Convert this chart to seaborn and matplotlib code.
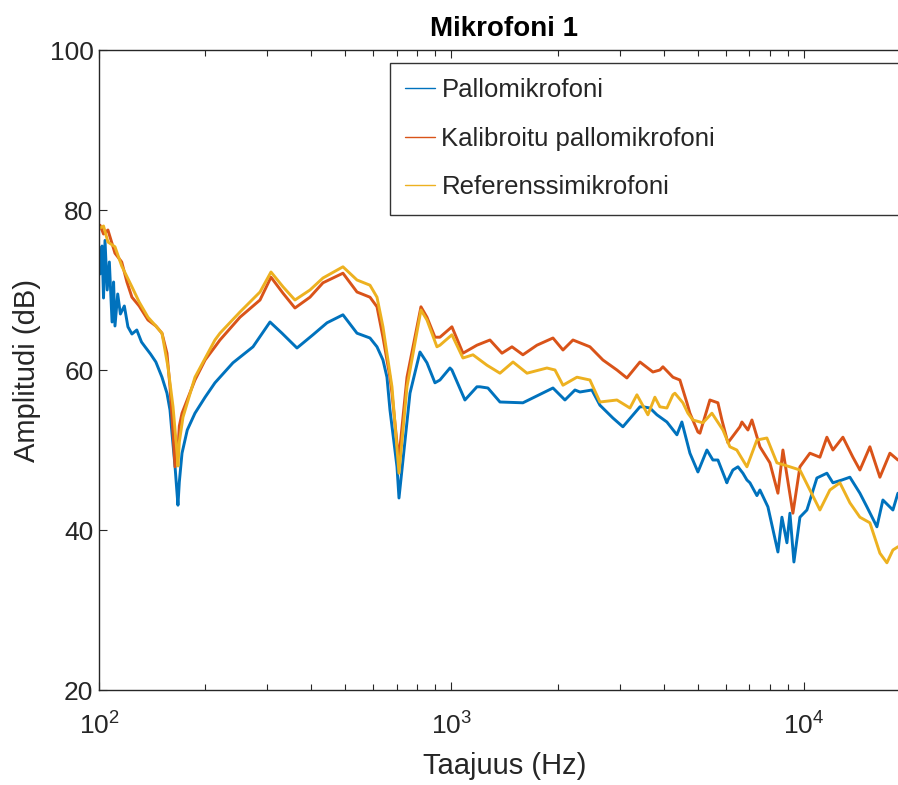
import numpy as np
import pandas as pd
import matplotlib
matplotlib.use("Agg")
import matplotlib.pyplot as plt
import seaborn as sns

# Sarjojen nimet ja värit (MATLABin oletusvärit)
series_names = ["Pallomikrofoni", "Kalibroitu pallomikrofoni", "Referenssimikrofoni"]
series_colors = ["#0072BD", "#D95319", "#EDB120"]

# Pallomikrofoni (luettu kuvasta)
freq_pallo = [100.7, 102, 103, 104, 105.5, 107, 108.9, 110, 111, 113, 115, 118, 120.8, 124, 128,
              132, 135.1, 140, 145, 150.9, 155.9, 159, 161.1, 164.3, 166.5, 167.5, 169, 172, 178,
              187.2, 200, 213.3, 239.9, 273.5, 305.6, 330.5, 364.5, 404.6, 443.5, 492.2, 539.5,
              587.3, 614.8, 639.3, 656.2, 669.2, 700.6, 709.8, 728.6, 762.7, 814.1, 852.1, 897.8,
              927.6, 990.2, 1003, 1092, 1181, 1205, 1269, 1373, 1595, 1941, 2099, 2241, 2315, 2503,
              2638, 2871, 3065, 3426, 3493, 3657, 3828, 4086, 4362, 4506, 4749, 5004, 5306, 5518,
              5702, 6046, 6086, 6288, 6500, 6714, 6892, 7029, 7357, 7503, 7904, 8439, 8662, 8950,
              9127, 9368, 9743, 10198, 10886, 11620, 12086, 12818, 13505, 14417, 15091, 16111,
              16755, 17886, 18483, 19200, 20000]
db_pallo = [72, 75.5, 69, 76.2, 70, 73.5, 66, 71, 65.5, 69.5, 67, 68, 65.4, 64.5, 65,
            63.5, 62.9, 62, 61, 59.1, 57.1, 55, 52.1, 48, 44.6, 43.1, 46, 49.6, 52.5,
            54.6, 56.6, 58.4, 60.9, 62.9, 66.0, 64.6, 62.75, 64.4, 65.9, 66.9, 64.6,
            64.0, 62.9, 61.25, 59.1, 55, 47.9, 44, 48.75, 57.1, 62.25, 60.9, 58.4,
            58.75, 60.25, 60, 56.25, 57.9, 57.9, 57.75, 56, 55.9, 57.75, 56.25, 57.5, 57.25, 57.5,
            55.6, 54, 52.9, 55.4, 55.4, 55.25, 54.4, 53.5, 51.9, 53.5, 49.6, 47.25, 50, 48.75,
            48.75, 45.9, 46.25, 47.5, 47.9, 47.1, 46.25, 45.9, 44.3, 45, 42.9, 37.25, 41.6, 38.4,
            42.1, 36, 41.6, 42.5, 46.5, 47.1, 45.9, 46.25, 46.6, 44.6, 42.9, 40.4,
            43.75, 42.5, 44.6, 43.5, 44]

# Kalibroitu pallomikrofoni
freq_kalib = [100.7, 103, 106, 111, 116, 120, 124, 130, 137.7, 145, 150.9, 155.9, 159, 162.2,
              164.3, 166, 167, 169, 172, 187.2, 200, 213.3, 220.4, 251.2, 286.3, 307.6, 332.7,
              359.7, 396.8, 432, 492.2, 539.5, 587.3, 614.8, 639.3, 669.2, 678, 705.2, 709.8,
              747.9, 819.4, 852.1, 897.8, 927.6, 1003, 1078, 1181, 1286, 1391, 1485, 1595, 1748,
              1941, 2072, 2212, 2471, 2690, 2948, 3146, 3426, 3729, 3903, 3981, 4250, 4448, 4657,
              4749, 5004, 5070, 5411, 5702, 5853, 6086, 6583, 6670, 6937, 7121, 7405, 7503, 8008,
              8439, 8719, 9308, 9743, 10400, 11102, 11620, 12086, 12901, 13772, 14417, 15390,
              16430, 17539, 18483, 20000]
db_kalib = [78.1, 77, 77.5, 74.6, 73.5, 71, 69.1, 68, 66.25, 65.5, 64.6, 62.1, 57.9, 52.1,
            47.9, 51, 49, 53, 54.6, 58.75, 61.25, 62.9, 63.75, 66.6, 68.75, 71.6, 69.6,
            67.75, 69.1, 70.9, 72.1, 69.75, 69.1, 67.9, 64.1, 59.1, 57.1, 49.6, 49.1,
            59.1, 67.9, 66.6, 64.1, 64.1, 65.4, 62.1, 63.1, 63.75, 62.1, 62.9, 61.9, 63.1,
            64, 62.5, 63.75, 62.9, 61.25, 60, 59, 61, 59.75, 60, 60.4, 59.1, 58.75, 55.9,
            54.6, 52.25, 52.1, 56.25, 55.9, 53.75, 50.9, 52.9, 53.5, 52.5, 53.75, 51.25, 50.4, 48.4,
            44.6, 50, 42.1, 47.9, 49.6, 49.1, 51.6, 50, 51.6, 49.1, 47.5, 50.4,
            46.6, 49.6, 48.75, 48.5]

# Referenssimikrofoni
freq_ref = [100.7, 103, 106, 111, 116, 124, 130, 137.7, 145, 150.9, 156.9, 162.2, 166.5, 167.5,
            169, 173.1, 187.2, 213.3, 220.4, 251.2, 286.3, 307.6, 332.7, 359.7, 396.8, 432,
            492.2, 539.5, 587.3, 614.8, 639.3, 678, 709.8, 747.9, 819.4, 852.1, 909.6, 927.6,
            1003, 1078, 1151, 1261, 1373, 1495, 1638, 1866, 1967, 2072, 2270, 2471, 2638, 2948,
            3209, 3359, 3609, 3777, 3903, 4086, 4250, 4305, 4536, 4687, 4843, 5169, 5483, 5892,
            6166, 6450, 6892, 7357, 7852, 8383, 9127, 9743, 10400, 11102, 11850, 12651, 13505,
            14417, 15390, 16430, 17198, 17886, 18483, 20000]
db_ref = [77.75, 78, 76, 75.4, 73, 70.4, 68.5, 66.6, 65.5, 64.6, 60.4, 55.4, 49.6, 48,
          51, 54.1, 59.1, 63.75, 64.6, 67.25, 69.75, 72.25, 70.4, 68.75, 70, 71.5,
          72.9, 71.25, 70.6, 69.1, 65.4, 57.9, 47.1, 57.9, 67.5, 66.25, 62.9, 63.1,
          64.4, 61.5, 61.9, 60.6, 59.6, 61, 59.6, 60.25, 60, 58.1, 59.1, 58.75, 56, 56.25,
          55.25, 56.9, 54.4, 56.6, 55.4, 55.25, 56.9, 57.1, 55.9, 54.6, 53.75, 53.4, 54.6, 52.5,
          50.4, 50, 47.9, 51.25, 51.5, 48.4, 47.9, 47.5, 45, 42.5, 45, 45.9, 43.4,
          41.6, 40.9, 37.1, 35.9, 37.5, 37.9, 38]

df = pd.concat([
    pd.DataFrame({"Taajuus": freq_pallo, "Amplitudi": db_pallo, "Sarja": series_names[0]}),
    pd.DataFrame({"Taajuus": freq_kalib, "Amplitudi": db_kalib, "Sarja": series_names[1]}),
    pd.DataFrame({"Taajuus": freq_ref, "Amplitudi": db_ref, "Sarja": series_names[2]}),
], ignore_index=True)

sns.set_style("ticks")
plt.rcParams["font.family"] = ["Liberation Sans", "DejaVu Sans"]
plt.rcParams["mathtext.fontset"] = "custom"
plt.rcParams["mathtext.rm"] = "Liberation Sans"
plt.rcParams["mathtext.it"] = "Liberation Sans"

fig = plt.figure(figsize=(8.98, 7.85), dpi=100)
ax = fig.add_axes([99 / 898, 95 / 785, 811 / 898, 640 / 785])

sns.lineplot(data=df, x="Taajuus", y="Amplitudi", hue="Sarja", hue_order=series_names,
             palette=series_colors, estimator=None, linewidth=2.1, legend=False, ax=ax)

ax.set_xscale("log")
ax.set_xlim(100, 20000)
ax.set_ylim(20, 100)
ax.set_yticks([20, 40, 60, 80, 100])

axis_col = "#262626"
for s in ax.spines.values():
    s.set_visible(True)
    s.set_color(axis_col)
    s.set_linewidth(1.0)
ax.tick_params(axis="both", which="both", direction="in", top=True, right=True,
               colors=axis_col, labelsize=19)
ax.tick_params(axis="both", which="major", length=6, width=0.8)
ax.tick_params(axis="x", which="major", pad=16)
ax.tick_params(axis="y", which="major", pad=4)
ax.tick_params(axis="x", which="minor", length=4, width=0.8)

ax.set_xlabel("Taajuus (Hz)", fontsize=21, color=axis_col, labelpad=9)
ax.set_ylabel("Amplitudi (dB)", fontsize=21, color=axis_col, labelpad=6)
ax.set_title("Mikrofoni 1", fontsize=20, fontweight="bold", color="black", pad=10)

leg = ax.legend(ax.lines[:3], series_names, loc="upper left",
                bbox_to_anchor=(291 / 811, 0.0, 1 - 291 / 811, 627 / 640), mode="expand",
                borderaxespad=0, fontsize=18.5, frameon=True, fancybox=False,
                handlelength=1.15, handletextpad=0.25, labelspacing=0.95, borderpad=0.6)
leg.get_frame().set_edgecolor("black")
leg.get_frame().set_linewidth(1.0)
for h in leg.get_lines():
    h.set_linewidth(1.0)

plt.savefig("out.png", dpi=100)
